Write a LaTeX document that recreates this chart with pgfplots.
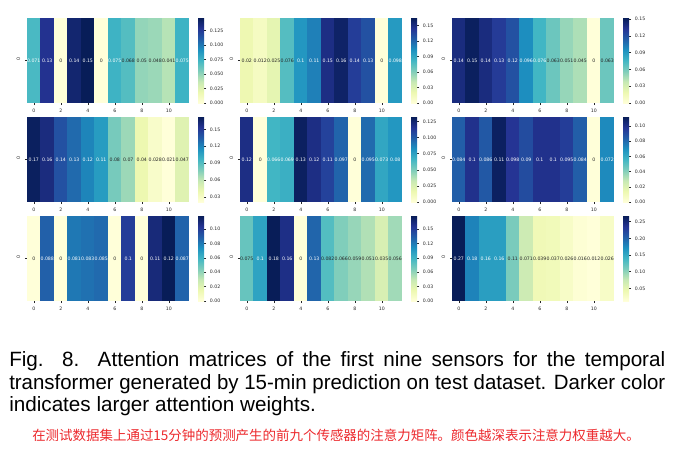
\documentclass[border=0pt]{standalone}
\usepackage{pgfplots}
\usepackage{pgfplotstable}
\pgfplotsset{compat=1.18}
\usepackage{fontspec}
\setmainfont{DejaVu Sans}
\newfontfamily\capfont{Liberation Sans}
\newfontfamily\cjk{Noto Sans CJK SC}
\newcommand\PX{0.75pt}
\definecolor{lbl}{gray}{0.15}
\definecolor{cnred}{RGB}{236,40,44}
\pgfkeys{/pgf/number format/assume math mode=true}
% one heatmap cell: 162/12 px wide, 85 px high
\pgfdeclareplotmark{cell}{\pgfpathrectangle{\pgfpoint{-5.12pt}{-31.9pt}}{\pgfpoint{10.24pt}{63.8pt}}\pgfusepathqfill}
\pgfdeclareplotmark{nothing}{}
% YlGnBu for the colour bars (TikZ maps 25bp..75bp onto the path)
\pgfdeclareverticalshading{ylgnbu}{100bp}{rgb(0bp)=(1,1,0.851); rgb(25bp)=(1,1,0.851);
  rgb(31.25bp)=(0.929,0.973,0.694); rgb(37.5bp)=(0.780,0.914,0.706);
  rgb(43.75bp)=(0.498,0.804,0.733); rgb(50bp)=(0.255,0.714,0.769);
  rgb(56.25bp)=(0.114,0.569,0.753); rgb(62.5bp)=(0.133,0.369,0.659);
  rgb(68.75bp)=(0.145,0.204,0.580); rgb(75bp)=(0.031,0.114,0.345);
  rgb(100bp)=(0.031,0.114,0.345)}

% attention weights, one table per sensor (column c = weight of time step x)
\pgfplotstableread{
x c
0 0.071
1 0.13
2 0
3 0.14
4 0.15
5 0
6 0.075
7 0.068
8 0.05
9 0.048
10 0.041
11 0.075
}\sA
\pgfplotstableread{
x c
0 0.02
1 0.012
2 0.025
3 0.076
4 0.1
5 0.11
6 0.15
7 0.16
8 0.14
9 0.13
10 0
11 0.098
}\sB
\pgfplotstableread{
x c
0 0.14
1 0.15
2 0.14
3 0.13
4 0.12
5 0.096
6 0.076
7 0.063
8 0.051
9 0.045
10 0
11 0.063
}\sC
\pgfplotstableread{
x c
0 0.17
1 0.16
2 0.14
3 0.13
4 0.12
5 0.11
6 0.08
7 0.07
8 0.04
9 0.028
10 0.021
11 0.047
}\sD
\pgfplotstableread{
x c
0 0.12
1 0
2 0.066
3 0.069
4 0.13
5 0.12
6 0.11
7 0.097
8 0
9 0.095
10 0.073
11 0.08
}\sE
\pgfplotstableread{
x c
0 0.084
1 0.1
2 0.086
3 0.11
4 0.098
5 0.09
6 0.1
7 0.1
8 0.095
9 0.084
10 0
11 0.072
}\sF
\pgfplotstableread{
x c
0 0
1 0.088
2 0
3 0.081
4 0.083
5 0.085
6 0
7 0.1
8 0
9 0.11
10 0.12
11 0.087
}\sG
\pgfplotstableread{
x c
0 0.075
1 0.1
2 0.18
3 0.16
4 0
5 0.13
6 0.082
7 0.066
8 0.059
9 0.051
10 0.035
11 0.056
}\sH
\pgfplotstableread{
x c
0 0.27
1 0.18
2 0.16
3 0.16
4 0.11
5 0.071
6 0.039
7 0.037
8 0.026
9 0.016
10 0.012
11 0.026
}\sI

\pgfplotsset{
  colormap={ylgnbu}{rgb255=(255,255,217) rgb255=(237,248,177) rgb255=(199,233,180)
    rgb255=(127,205,187) rgb255=(65,182,196) rgb255=(29,145,192) rgb255=(34,94,168)
    rgb255=(37,52,148) rgb255=(8,29,88)},
  hm/.style={
    anchor=north west, scale only axis, width=121.5pt, height=63.75pt,
    xmin=-0.5, xmax=11.5, ymin=-0.5, ymax=0.5,
    xtick={0,2,4,6,8,10}, ytick={0},
    axis line style={draw=none},
    tick pos=left, tick align=outside, major tick length=1.6pt,
    tick style={line width=0.35pt, color=lbl},
    tick label style={font=\fontsize{3.5}{4}\selectfont, text=lbl},
    xticklabel style={yshift=0.6pt},
    yticklabel style={rotate=90, xshift=1.2pt},
  },
  cb/.style={
    anchor=north west, scale only axis, width=4.5pt, height=63.75pt,
    xmin=0, xmax=1, xtick=\empty,
    axis line style={draw=none}, scaled y ticks=false,
    ytick pos=right, yticklabel pos=right, tick align=outside, major tick length=1.5pt,
    ytick style={line width=0.35pt, color=lbl},
    yticklabel style={font=\fontsize{3.5}{4}\selectfont, text=lbl, xshift=-0.6pt,
      /pgf/number format/fixed, /pgf/number format/fixed zerofill},
  },
  % coloured cells
  cells/.style={
    scatter, only marks, mark=cell, point meta=explicit,
    scatter/@pre marker code/.code={%
      \pgfplotscolormapdefinemappedcolor{\pgfplotspointmetatransformed}%
      \begin{scope}\pgfsetfillcolor{mapped color}},
    scatter/@post marker code/.code={\end{scope}},
  },
  % value written in each cell, white on dark cells
  vals/.style={
    only marks, mark=nothing, point meta=explicit,
    nodes near coords={\ifdim\pgfplotspointmetatransformed pt>470pt\color{white}\else\color{lbl}\fi
      \pgfmathprintnumber[fixed,precision=3]{\pgfplotspointmeta}},
    every node near coord/.append style={anchor=center, inner sep=0pt,
      font=\fontsize{3.5}{4}\selectfont},
  },
}
% colour bar beside a heatmap: x, y of the heatmap (px), min, max, ticks, decimals
\newcommand\cbar[6]{%
  \begin{axis}[cb, at={(#1*\PX+171*\PX,-#2*\PX)}, ymin=#3, ymax=#4, ytick={#5},
    /pgf/number format/precision=#6]
  \fill[shading=ylgnbu] (rel axis cs:0,0) rectangle (rel axis cs:1,1);
  \end{axis}}
\begin{document}
\begin{tikzpicture}
\useasboundingbox (0,0) rectangle (506.25pt,-342.75pt);

% row 1
\begin{axis}[hm, at={(27*\PX,-18*\PX)}, point meta min=0, point meta max=0.147]
\addplot[cells] table[x=x, y expr=0, meta=c] {\sA};
\addplot[vals] table[x=x, y expr=0, meta=c] {\sA};
\end{axis}
\cbar{27}{18}{0}{0.147}{0,0.025,0.05,0.075,0.1,0.125}{3}

\begin{axis}[hm, at={(240*\PX,-18*\PX)}, point meta min=0, point meta max=0.165]
\addplot[cells] table[x=x, y expr=0, meta=c] {\sB};
\addplot[vals] table[x=x, y expr=0, meta=c] {\sB};
\end{axis}
\cbar{240}{18}{0}{0.165}{0,0.03,0.06,0.09,0.12,0.15}{2}

\begin{axis}[hm, at={(452*\PX,-18*\PX)}, point meta min=0, point meta max=0.152]
\addplot[cells] table[x=x, y expr=0, meta=c] {\sC};
\addplot[vals] table[x=x, y expr=0, meta=c] {\sC};
\end{axis}
\cbar{452}{18}{0}{0.152}{0,0.03,0.06,0.09,0.12,0.15}{2}

% row 2
\begin{axis}[hm, at={(27*\PX,-117*\PX)}, point meta min=0.021, point meta max=0.172]
\addplot[cells] table[x=x, y expr=0, meta=c] {\sD};
\addplot[vals] table[x=x, y expr=0, meta=c] {\sD};
\end{axis}
\cbar{27}{117}{0.021}{0.172}{0.03,0.06,0.09,0.12,0.15}{2}

\begin{axis}[hm, at={(240*\PX,-117*\PX)}, point meta min=0, point meta max=0.132]
\addplot[cells] table[x=x, y expr=0, meta=c] {\sE};
\addplot[vals] table[x=x, y expr=0, meta=c] {\sE};
\end{axis}
\cbar{240}{117}{0}{0.132}{0,0.025,0.05,0.075,0.1,0.125}{3}

\begin{axis}[hm, at={(452*\PX,-117*\PX)}, point meta min=0, point meta max=0.112]
\addplot[cells] table[x=x, y expr=0, meta=c] {\sF};
\addplot[vals] table[x=x, y expr=0, meta=c] {\sF};
\end{axis}
\cbar{452}{117}{0}{0.112}{0,0.02,0.04,0.06,0.08,0.1}{2}

% row 3
\begin{axis}[hm, at={(27*\PX,-216*\PX)}, point meta min=0, point meta max=0.118]
\addplot[cells] table[x=x, y expr=0, meta=c] {\sG};
\addplot[vals] table[x=x, y expr=0, meta=c] {\sG};
\end{axis}
\cbar{27}{216}{0}{0.118}{0,0.02,0.04,0.06,0.08,0.1}{2}

\begin{axis}[hm, at={(240*\PX,-216*\PX)}, point meta min=0, point meta max=0.177]
\addplot[cells] table[x=x, y expr=0, meta=c] {\sH};
\addplot[vals] table[x=x, y expr=0, meta=c] {\sH};
\end{axis}
\cbar{240}{216}{0}{0.177}{0,0.03,0.06,0.09,0.12,0.15}{2}

\begin{axis}[hm, at={(452*\PX,-216*\PX)}, point meta min=0.012, point meta max=0.267]
\addplot[cells] table[x=x, y expr=0, meta=c] {\sI};
\addplot[vals] table[x=x, y expr=0, meta=c] {\sI};
\end{axis}
\cbar{452}{216}{0.012}{0.267}{0.05,0.1,0.15,0.2,0.25}{2}

% caption
\begin{scope}[every node/.style={anchor=base west, inner sep=0pt, font=\capfont\fontsize{15.5}{18}\selectfont}]
\node at (9*\PX,-366.7*\PX) {\makebox[492pt][s]{Fig. 8. Attention matrices of the first nine sensors for the temporal}};
\node at (9*\PX,-389.3*\PX) {\resizebox{492pt}{\height}{transformer generated by 15-min prediction on test dataset. Darker color}};
\node at (9*\PX,-411.7*\PX) {indicates larger attention weights.};
\end{scope}
\node[anchor=base west, inner sep=0pt, text=cnred, font=\cjk\fontsize{10.1}{12}\selectfont]
  at (32*\PX,-440*\PX) {在测试数据集上通过15分钟的预测产生的前九个传感器的注意力矩阵。颜色越深表示注意力权重越大。};
\end{tikzpicture}
\end{document}
